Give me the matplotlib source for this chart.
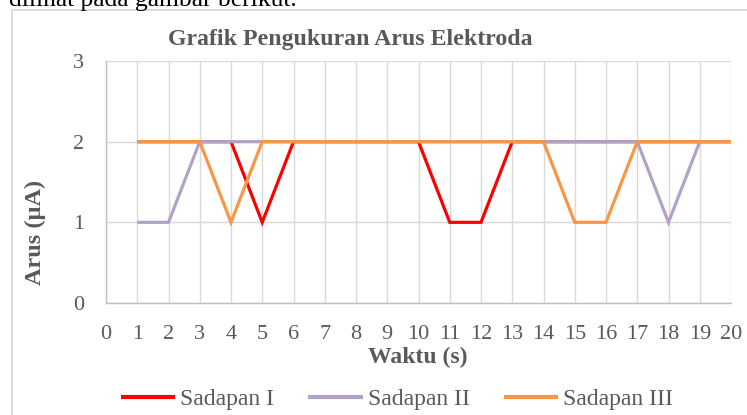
import matplotlib
matplotlib.use("Agg")
import matplotlib.pyplot as plt
from matplotlib.patches import Rectangle

# ---- data ----
waktu = list(range(1, 21))
sadapan_1 = [2, 2, 2, 2, 1, 2, 2, 2, 2, 2, 1, 1, 2, 2, 2, 2, 2, 2, 2, 2]
sadapan_2 = [1, 1, 2, 2, 2, 2, 2, 2, 2, 2, 2, 2, 2, 2, 2, 2, 2, 1, 2, 2]
sadapan_3 = [2, 2, 2, 1, 2, 2, 2, 2, 2, 2, 2, 2, 2, 2, 1, 1, 2, 2, 2, 2]
series_names = ["Sadapan I", "Sadapan II", "Sadapan III"]
x_ticks = list(range(0, 21))
y_ticks = [0, 1, 2, 3]
title = "Grafik Pengukuran Arus Elektroda"
x_label = "Waktu (s)"
y_label = "Arus (\u00b5A)"

W, H = 747, 415
DPI = 100
plt.rcParams["font.family"] = ["Liberation Serif", "DejaVu Serif"]

fig = plt.figure(figsize=(W / DPI, H / DPI), dpi=DPI)
fig.patch.set_facecolor("white")

def fx(px):
    return px / W

def fy(py):
    return 1 - py / H

# page text above the chart (partly outside the picture, as in the reference)
fig.text(fx(9), fy(6), "dilihat pada gambar berikut.", ha="left", va="baseline",
         fontsize=18.4, color="black")

# chart border
fig.patches.append(Rectangle((fx(12), fy(430)), fx(760), (430 - 10) / H,
                             transform=fig.transFigure, fill=False,
                             edgecolor="#d9d9d9", linewidth=1.3))

left, right, top, bottom = 106, 731, 61, 303
ax = fig.add_axes([fx(left), fy(bottom), fx(right - left), (bottom - top) / H])

colors = ["#ff0000", "#b3a2c7", "#f79646"]
for vals, name, c in zip([sadapan_1, sadapan_2, sadapan_3], series_names, colors):
    ax.plot(waktu, vals, color=c, linewidth=2.3, label=name, solid_capstyle="butt",
            solid_joinstyle="miter", zorder=3)

ax.set_xlim(0, 20)
ax.set_ylim(0, 3)
ax.set_xticks(x_ticks)
ax.set_yticks(y_ticks)
ax.grid(True, color="#d9d9d9", linewidth=1.0, zorder=0)
for s in ["top", "right"]:
    ax.spines[s].set_visible(False)
for s in ["left", "bottom"]:
    ax.spines[s].set_color("#bfbfbf")
    ax.spines[s].set_linewidth(1.0)
ax.tick_params(axis="both", length=0, colors="#595959", labelsize=16)
ax.tick_params(axis="x", pad=16)
ax.tick_params(axis="y", pad=16)

fig.text(fx(350), fy(39), title, ha="center", va="center", fontsize=17.2,
         fontweight="bold", color="#595959")
fig.text(fx(418), fy(357), x_label, ha="center", va="center", fontsize=17,
         fontweight="bold", color="#595959")
fig.text(fx(35), fy(232), y_label, ha="center", va="center", fontsize=17.5,
         fontweight="bold", color="#595959", rotation=90)

leg = fig.legend(loc="center", bbox_to_anchor=(fx(397), fy(399)), ncol=3, frameon=False,
                 fontsize=17, handlelength=2.3, handletextpad=0.22, columnspacing=1.45,
                 borderaxespad=0, borderpad=0)
for t in leg.get_texts():
    t.set_color("#595959")
for l in leg.get_lines():
    l.set_linewidth(3)

fig.savefig("out.png", dpi=DPI)
